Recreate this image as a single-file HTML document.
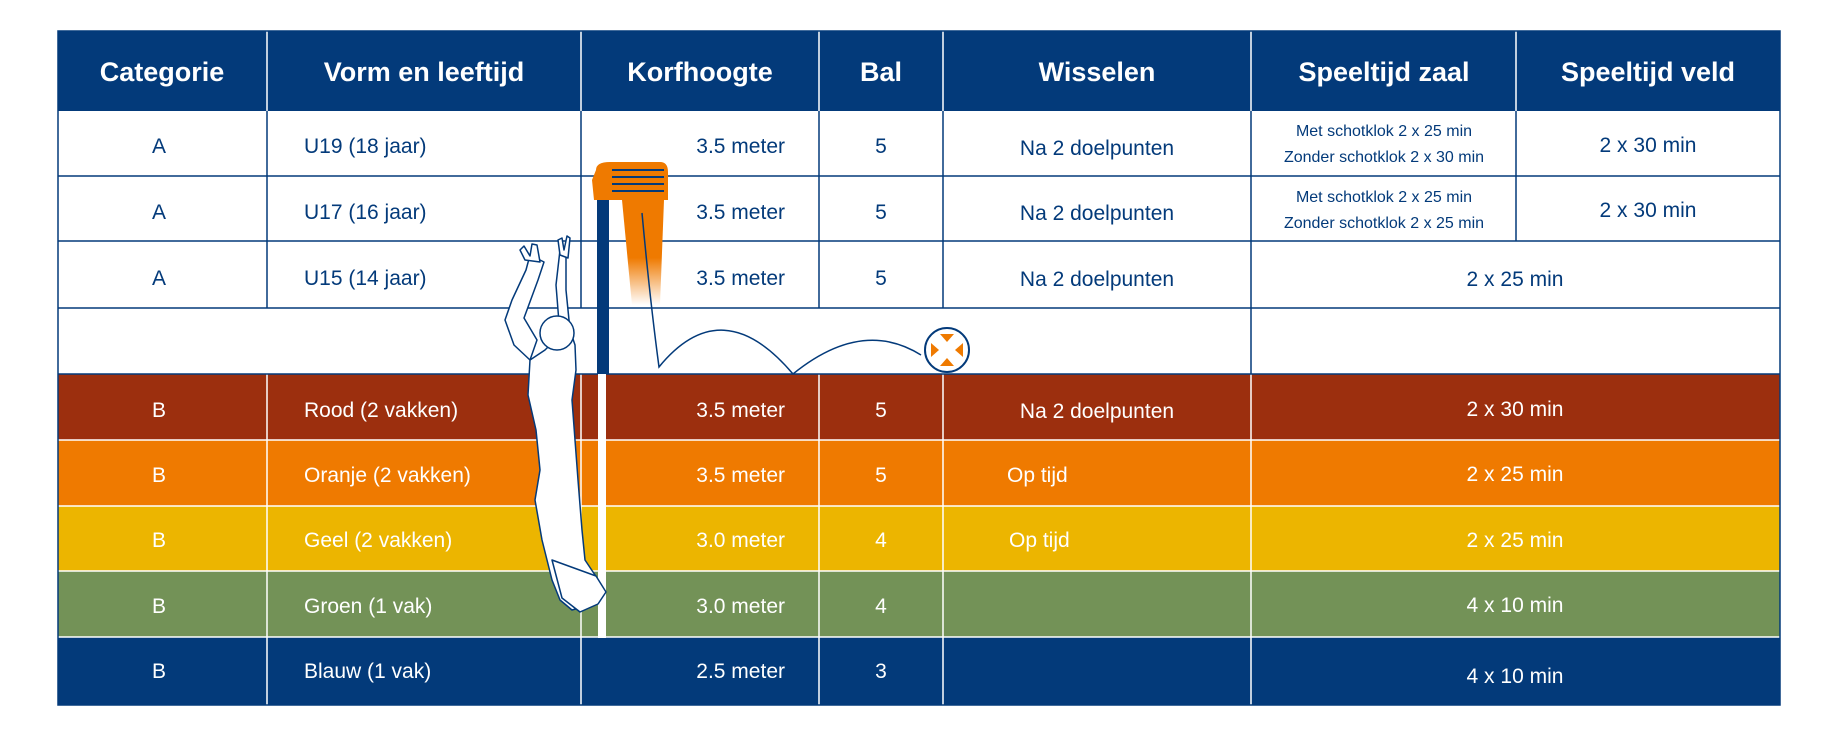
<!DOCTYPE html>
<html><head><meta charset="utf-8"><style>
html,body{margin:0;padding:0;background:#fff;}
svg{display:block;}
text{font-family:"Liberation Sans",sans-serif;}
</style></head><body>
<svg width="1828" height="734" viewBox="0 0 1828 734" xmlns="http://www.w3.org/2000/svg">
<defs>
<linearGradient id="tail" x1="0" y1="0" x2="0" y2="1">
<stop offset="0" stop-color="#ef7a00"/><stop offset="0.55" stop-color="#ef7a00"/><stop offset="1" stop-color="#ef7a00" stop-opacity="0"/>
</linearGradient>
</defs>
<rect x="58" y="31" width="1722" height="80" fill="#033a7a"/>
<rect x="58" y="374" width="1722" height="66" fill="#9c2f0e"/>
<rect x="58" y="440" width="1722" height="66" fill="#ef7a00"/>
<rect x="58" y="506" width="1722" height="65" fill="#ecb500"/>
<rect x="58" y="571" width="1722" height="66" fill="#739257"/>
<rect x="58" y="637" width="1722" height="68" fill="#033a7a"/>
<g stroke="#ffffff" stroke-width="1.5">
<line x1="267" y1="31" x2="267" y2="111"/><line x1="581" y1="31" x2="581" y2="111"/>
<line x1="819" y1="31" x2="819" y2="111"/><line x1="943" y1="31" x2="943" y2="111"/>
<line x1="1251" y1="31" x2="1251" y2="111"/><line x1="1516" y1="31" x2="1516" y2="111"/>
<line x1="58" y1="440" x2="1780" y2="440"/><line x1="58" y1="506" x2="1780" y2="506"/>
<line x1="58" y1="571" x2="1780" y2="571"/><line x1="58" y1="637" x2="1780" y2="637"/>
<line x1="267" y1="374" x2="267" y2="705"/><line x1="581" y1="374" x2="581" y2="705"/>
<line x1="819" y1="374" x2="819" y2="705"/><line x1="943" y1="374" x2="943" y2="705"/>
<line x1="1251" y1="374" x2="1251" y2="705"/>
</g>
<g stroke="#033a7a" stroke-width="1.5" fill="none">
<rect x="58" y="31" width="1722" height="674"/>
<line x1="58" y1="176" x2="1780" y2="176"/><line x1="58" y1="241" x2="1780" y2="241"/>
<line x1="58" y1="308" x2="1780" y2="308"/><line x1="58" y1="374" x2="1780" y2="374"/>
<line x1="267" y1="111" x2="267" y2="308"/><line x1="581" y1="111" x2="581" y2="308"/>
<line x1="819" y1="111" x2="819" y2="308"/><line x1="943" y1="111" x2="943" y2="308"/>
<line x1="1251" y1="111" x2="1251" y2="374"/><line x1="1516" y1="111" x2="1516" y2="241"/>
</g>
<g fill="#fff" font-weight="bold" font-size="27" text-anchor="middle">
<text x="162" y="81">Categorie</text><text x="424" y="81">Vorm en leeftijd</text>
<text x="700" y="81">Korfhoogte</text><text x="881" y="81">Bal</text>
<text x="1097" y="81">Wisselen</text><text x="1384" y="81">Speeltijd zaal</text>
<text x="1648" y="81">Speeltijd veld</text>
</g>
<g fill="#033a7a" font-size="21">
<g text-anchor="middle"><text x="159" y="153">A</text><text x="159" y="219">A</text><text x="159" y="285">A</text>
<text x="881" y="153">5</text><text x="881" y="219">5</text><text x="881" y="285">5</text>
<text x="1097" y="155">Na 2 doelpunten</text><text x="1097" y="220">Na 2 doelpunten</text><text x="1097" y="286">Na 2 doelpunten</text>
<text x="1648" y="152">2 x 30 min</text><text x="1648" y="217">2 x 30 min</text><text x="1515" y="286">2 x 25 min</text>
</g>
<text x="304" y="153">U19 (18 jaar)</text><text x="304" y="219">U17 (16 jaar)</text><text x="304" y="285">U15 (14 jaar)</text>
<g text-anchor="end"><text x="785" y="153">3.5 meter</text><text x="785" y="219">3.5 meter</text><text x="785" y="285">3.5 meter</text></g>
<g text-anchor="middle" font-size="16"><text x="1384" y="136">Met schotklok 2 x 25 min</text><text x="1384" y="162">Zonder schotklok 2 x 30 min</text>
<text x="1384" y="202">Met schotklok 2 x 25 min</text><text x="1384" y="228">Zonder schotklok 2 x 25 min</text></g>
</g>
<g fill="#fff" font-size="21">
<g text-anchor="middle"><text x="159" y="417">B</text><text x="159" y="482">B</text><text x="159" y="547">B</text><text x="159" y="613">B</text><text x="159" y="678">B</text>
<text x="881" y="417">5</text><text x="881" y="482">5</text><text x="881" y="547">4</text><text x="881" y="613">4</text><text x="881" y="678">3</text>
<text x="1097" y="418">Na 2 doelpunten</text></g>
<text x="304" y="417">Rood (2 vakken)</text><text x="304" y="482">Oranje (2 vakken)</text><text x="304" y="547">Geel (2 vakken)</text><text x="304" y="613">Groen (1 vak)</text><text x="304" y="678">Blauw (1 vak)</text>
<g text-anchor="end"><text x="785" y="417">3.5 meter</text><text x="785" y="482">3.5 meter</text><text x="785" y="547">3.0 meter</text><text x="785" y="613">3.0 meter</text><text x="785" y="678">2.5 meter</text></g>
<text x="1007" y="482">Op tijd</text><text x="1009" y="547">Op tijd</text>
<g text-anchor="middle"><text x="1515" y="416">2 x 30 min</text><text x="1515" y="481">2 x 25 min</text><text x="1515" y="547">2 x 25 min</text><text x="1515" y="612">4 x 10 min</text><text x="1515" y="683">4 x 10 min</text></g>
</g>
<rect x="597" y="200" width="12" height="174" fill="#033a7a"/>
<rect x="598" y="374" width="8" height="264" fill="#fff"/>
<path d="M622,200 L664,200 L660,305 L632,305 Z" fill="url(#tail)"/>
<path d="M596,170 Q596,162 610,162 L660,162 Q668,162 668,172 L668,200 L610,200 L594,200 L592,180 Z" fill="#ef7a00"/>
<g stroke="#033a7a" stroke-width="2" fill="none">
<line x1="612" y1="170" x2="664" y2="170"/><line x1="612" y1="177" x2="664" y2="177"/>
<line x1="612" y1="184" x2="664" y2="184"/><line x1="612" y1="191" x2="664" y2="191"/>
</g>
<path d="M642,213 Q650,300 659,367 Q722,290 793,374 Q862,318 921,355" stroke="#033a7a" stroke-width="1.5" fill="none"/>
<circle cx="947" cy="350" r="22" fill="#fff" stroke="#033a7a" stroke-width="2"/>
<g fill="#ef7a00">
<path d="M940,334 L954,334 L947,342 Z"/><path d="M940,366 L954,366 L947,358 Z"/>
<path d="M931,343 L931,357 L939,350 Z"/><path d="M963,343 L963,357 L955,350 Z"/>
</g>
<g fill="#fff" stroke="#033a7a" stroke-width="1.5" stroke-linejoin="round">
<path d="M560,250 L556,285 L560,335 L545,350 L530,360 L528,395 L536,430 L540,470 L535,500 L542,540 L552,580 L560,600 L572,610 L590,605 L602,590 L595,575 L585,560 L582,530 L578,480 L575,440 L572,400 L576,370 L575,345 L570,330 L566,290 L566,250 Z"/>
<path d="M530,255 L526,270 L512,300 L505,320 L514,345 L530,360 L537,340 L524,318 L538,280 L544,262 Z"/>
<circle cx="557" cy="333" r="17"/>
<path d="M552,560 L562,598 L580,612 L598,604 L606,592 L596,576 Z"/>
<path d="M525,260 L520,250 L524,246 L530,256 L532,244 L537,245 L540,262 Z"/>
<path d="M560,255 L558,240 L562,238 L564,250 L567,236 L570,238 L568,258 Z"/>
</g>
</svg>
</body></html>
